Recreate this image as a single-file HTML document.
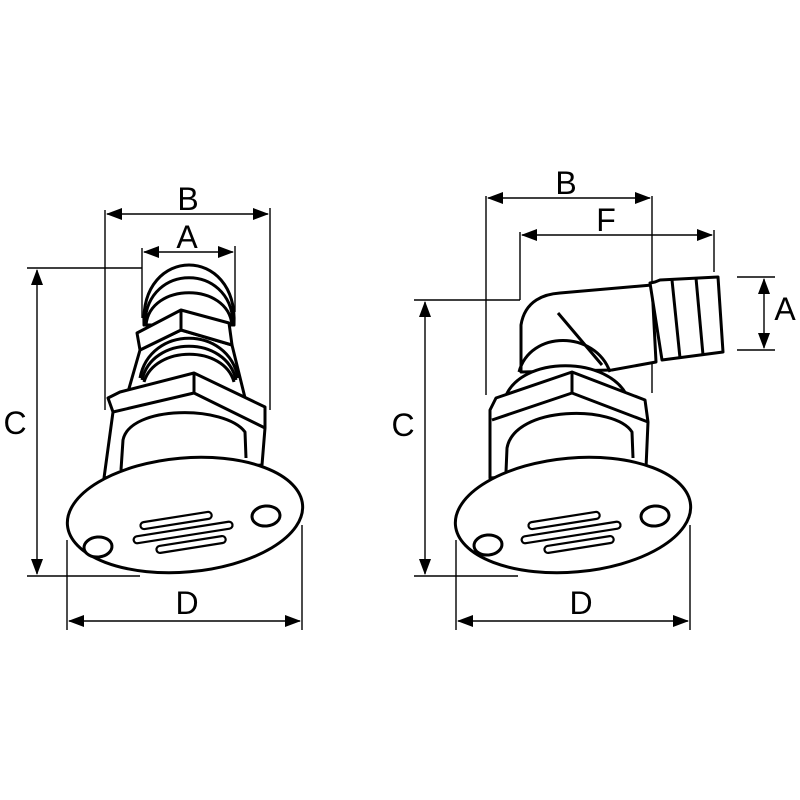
<!DOCTYPE html>
<html><head><style>html,body{margin:0;padding:0;background:#fff}svg{display:block}</style></head><body>
<svg width="800" height="800" viewBox="0 0 800 800" xmlns="http://www.w3.org/2000/svg">
<defs>
<marker id="ar" markerWidth="16" markerHeight="12" refX="15" refY="6" orient="auto-start-reverse" markerUnits="userSpaceOnUse"><path d="M0,0 L16,6 L0,12 Z" fill="#000"/></marker>
</defs>
<g fill="none" stroke="#000" stroke-width="1.4">
<line x1="105" y1="210" x2="105" y2="410"/><line x1="270" y1="208" x2="270" y2="410"/>
<line x1="142" y1="248" x2="142" y2="318"/><line x1="235" y1="246" x2="235" y2="312"/>
<line x1="27" y1="268" x2="142" y2="268"/><line x1="27" y1="576" x2="140" y2="576"/>
<line x1="67" y1="540" x2="67" y2="630"/><line x1="302" y1="525" x2="302" y2="630"/>
<line x1="107" y1="214" x2="268" y2="214" marker-start="url(#ar)" marker-end="url(#ar)"/>
<line x1="144" y1="252" x2="233" y2="252" marker-start="url(#ar)" marker-end="url(#ar)"/>
<line x1="37" y1="270" x2="37" y2="574" marker-start="url(#ar)" marker-end="url(#ar)"/>
<line x1="69" y1="621" x2="300" y2="621" marker-start="url(#ar)" marker-end="url(#ar)"/>
<line x1="486" y1="196" x2="486" y2="395"/><line x1="652" y1="196" x2="652" y2="393"/>
<line x1="520" y1="232" x2="520" y2="300"/><line x1="714" y1="230" x2="714" y2="272"/>
<line x1="414" y1="300" x2="520" y2="300"/><line x1="414" y1="576" x2="518" y2="576"/>
<line x1="737" y1="277" x2="775" y2="277"/><line x1="737" y1="350" x2="775" y2="350"/>
<line x1="456" y1="540" x2="456" y2="630"/><line x1="690" y1="525" x2="690" y2="630"/>
<line x1="488" y1="198" x2="650" y2="198" marker-start="url(#ar)" marker-end="url(#ar)"/>
<line x1="522" y1="235" x2="712" y2="235" marker-start="url(#ar)" marker-end="url(#ar)"/>
<line x1="764" y1="279" x2="764" y2="348" marker-start="url(#ar)" marker-end="url(#ar)"/>
<line x1="425" y1="302" x2="425" y2="574" marker-start="url(#ar)" marker-end="url(#ar)"/>
<line x1="458" y1="621" x2="688" y2="621" marker-start="url(#ar)" marker-end="url(#ar)"/>
</g>
<g fill="#fff" stroke="#000" stroke-width="3" stroke-linejoin="round">
<!-- LEFT fitting -->
<path d="M144,325 C140,245 238,245 234,325 Z"/>
<path d="M145,322 C148,263 230,263 233,322" fill="none"/>
<path d="M146,325 C150,282 228,282 232,325" fill="none"/>
<path d="M140,350 L181,330 L232,345 L248,410 L128,392 Z"/>
<path d="M140,378 C150,325 228,325 238,378" fill="none"/>
<path d="M142,380 C152,335 226,335 236,380" fill="none"/>
<path d="M144,382 C155,345 224,345 234,382" fill="none"/>
<path d="M137,333 L181,310 L229,323 L232,345 L181,330 L140,350 Z"/>
<line x1="181" y1="310" x2="181" y2="330"/>
<path d="M104,478 L113,412 L108,398 L120,392 L194,373 L265,407 L265,428 L262,465 Z"/>
<path d="M113,412 L194,393 L265,428" fill="none"/>
<line x1="194" y1="373" x2="194" y2="393"/>
<path d="M121,470 L123,440 C130,405 225,405 245,432 L246,458" fill="none"/>
<ellipse cx="185" cy="515" rx="118" ry="57" transform="rotate(-5 185 515)"/>
<ellipse cx="98" cy="547" rx="14" ry="10" transform="rotate(-5 98 547)"/>
<ellipse cx="266" cy="516" rx="14" ry="10" transform="rotate(-5 266 516)"/>
<g stroke-width="2.2">
<rect x="140" y="517" width="72" height="7" rx="3.5" transform="rotate(-9 176 520)"/>
<rect x="133" y="529" width="100" height="7" rx="3.5" transform="rotate(-9 183 532)"/>
<rect x="156" y="541" width="70" height="7" rx="3.5" transform="rotate(-9 191 544)"/>
</g>
<!-- RIGHT fitting -->
<path d="M521,372 L521,325 C525,300 545,294 560,293 L652,285 L656,362 L612,370 Z"/>
<line x1="558" y1="313" x2="602" y2="365"/>
<path d="M650,283 L655,282 L660,280 L718,277 L723,352 L662,360 Z"/>
<line x1="672" y1="280" x2="680" y2="358"/>
<line x1="696" y1="278" x2="703" y2="355"/>
<path d="M519,372 C530,330 595,330 610,372" fill="none"/>
<path d="M505,398 C520,355 610,355 628,398 Z"/>
<path d="M490,478 L490,410 L496,398 L572,372 L645,400 L648,422 L646,468 Z"/>
<path d="M492,420 L572,393 L648,422" fill="none"/>
<line x1="572" y1="372" x2="572" y2="393"/>
<path d="M506,472 L507,448 C515,405 615,405 632,432 L633,458" fill="none"/>
<ellipse cx="573" cy="515" rx="118" ry="57" transform="rotate(-5 573 515)"/>
<ellipse cx="488" cy="545" rx="14" ry="10" transform="rotate(-5 488 545)"/>
<ellipse cx="655" cy="516" rx="14" ry="10" transform="rotate(-5 655 516)"/>
<g stroke-width="2.2">
<rect x="528" y="517" width="72" height="7" rx="3.5" transform="rotate(-9 564 520)"/>
<rect x="521" y="529" width="100" height="7" rx="3.5" transform="rotate(-9 571 532)"/>
<rect x="544" y="541" width="70" height="7" rx="3.5" transform="rotate(-9 579 544)"/>
</g>
</g>
<g font-family="Liberation Sans, sans-serif" font-size="32" fill="#000" text-anchor="middle">
<text x="188" y="210">B</text><text x="187" y="248">A</text>
<text x="15" y="434">C</text><text x="187" y="614">D</text>
<text x="566" y="194">B</text><text x="606" y="231">F</text>
<text x="785" y="320">A</text><text x="403" y="436">C</text><text x="581" y="614">D</text>
</g>
</svg>
</body></html>
